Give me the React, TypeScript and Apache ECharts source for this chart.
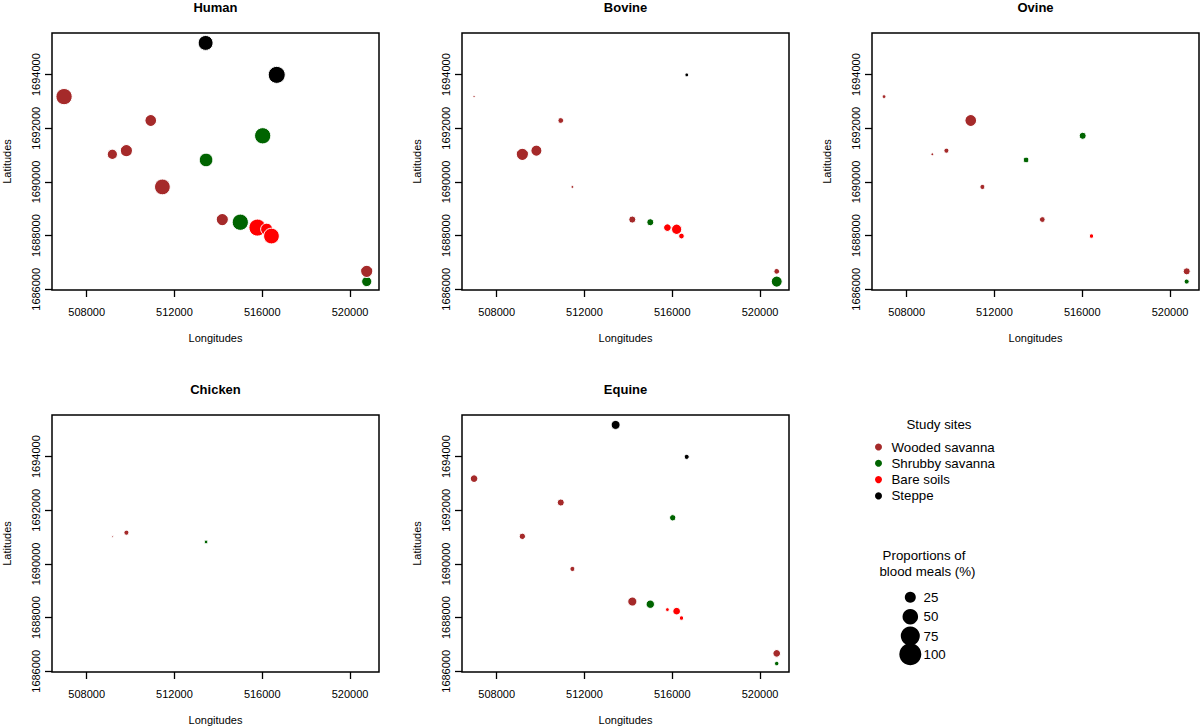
import React, { useEffect, useRef } from "react";
import * as echarts from "echarts";

const FONT = "'Liberation Sans', Arial, Helvetica, sans-serif";

const panelTitles = ["Human", "Bovine", "Ovine", "Chicken", "Equine"];
const habitatNames = ["Wooded savanna", "Shrubby savanna", "Bare soils", "Steppe"];
const habitatColors = ["#A52A2A", "#006400", "#FF0000", "#000000"];

// study sites: habitat index, longitude, latitude
const siteHabitat = [0, 0, 0, 0, 0, 0, 0, 1, 1, 1, 1, 2, 2, 2, 3, 3];
const siteLon = [506970, 510920, 509170, 509810, 511450, 514180, 520760, 513440, 516020, 515000, 520760, 515780, 516200, 516420, 513420, 516660];
const siteLat = [1693180, 1692290, 1691030, 1691165, 1689815, 1688600, 1686670, 1690820, 1691720, 1688500, 1686290, 1688300, 1688240, 1687985, 1695180, 1693990];

// proportions of blood meals (%) per site, per host
const human = [48, 24, 18, 26, 45, 26, 26, 33, 48, 48, 17, 53, 25, 45, 40, 53];
const bovine = [0.35, 4.5, 26, 21, 0.6, 7.4, 4.5, 0, 0, 7.4, 21, 9.3, 18, 4.5, 0, 1.5];
const ovine = [1.5, 24, 0.8, 3.3, 3.3, 4.5, 7.4, 4.5, 7.4, 0, 3.3, 0, 0, 2.3, 0, 0];
const chicken = [0, 0, 0.2, 3.3, 0, 0, 0, 1.5, 0, 0, 0, 0, 0, 0, 0, 0];
const equine = [9.3, 7.4, 5.8, 0, 3.3, 13, 9.3, 0, 5.8, 11, 2.3, 1.5, 9.3, 2.3, 13, 3.3];

const xTicks = [508000, 512000, 516000, 520000];
const yTicks = [1686000, 1688000, 1690000, 1692000, 1694000];
const sizeLegendValues = [25, 50, 75, 100];

const X_MIN = 506420;
const X_MAX = 521320;
const Y_MIN = 1685975;
const Y_MAX = 1695550;

const SIZE_K = 2.2;

const grids = [
  { left: 52, top: 33 },
  { left: 462, top: 33 },
  { left: 872, top: 33 },
  { left: 52, top: 415 },
  { left: 462, top: 415 },
];
const GW = 327;
const GH = 257;

export default function App() {
  const ref = useRef<HTMLDivElement>(null);

  useEffect(() => {
    document.body.style.margin = "0";
    if (!ref.current) return;
    const chart = echarts.init(ref.current, null, { renderer: "svg" });
    const panels = [human, bovine, ovine, chicken, equine];
    const drawOrder = [1, 2, 0, 3];

    const series: any[] = [];
    panels.forEach((vals, pi) => {
      drawOrder.forEach((h) => {
        const data: number[][] = [];
        siteLon.forEach((lon, si) => {
          if (siteHabitat[si] === h && vals[si] > 0) data.push([lon, siteLat[si], vals[si]]);
        });
        series.push({
          type: "scatter",
          name: habitatNames[h],
          xAxisIndex: pi,
          yAxisIndex: pi,
          data,
          symbol: "circle",
          symbolSize: (v: number[]) => SIZE_K * Math.sqrt(v[2]) + 1,
          itemStyle: { color: habitatColors[h], borderColor: "#ffffff", borderWidth: 1, opacity: 1 },
          emphasis: { disabled: true },
          silent: true,
        });
      });
    });

    const xAxes = grids.map((g, i) => ({
      gridIndex: i,
      type: "value",
      min: X_MIN,
      max: X_MAX,
      name: "Longitudes",
      nameLocation: "middle",
      nameGap: 42,
      nameTextStyle: { fontSize: 11, color: "#000", fontFamily: FONT },
      axisLine: { show: false },
      axisTick: { show: true, inside: false, length: 7, customValues: xTicks, lineStyle: { color: "#000", width: 1.3 } },
      axisLabel: { show: true, customValues: xTicks, margin: 16, fontSize: 11, color: "#000", fontFamily: FONT, formatter: (v: number) => String(v) },
      splitLine: { show: false },
    }));

    const yAxes = grids.map((g, i) => ({
      gridIndex: i,
      type: "value",
      min: Y_MIN,
      max: Y_MAX,
      name: "Latitudes",
      nameLocation: "middle",
      nameGap: 40,
      nameTextStyle: { fontSize: 11, color: "#000", fontFamily: FONT },
      axisLine: { show: false },
      axisTick: { show: true, inside: false, length: 7, customValues: yTicks, lineStyle: { color: "#000", width: 1.3 } },
      axisLabel: { show: true, rotate: 90, customValues: yTicks, margin: 11, fontSize: 11, color: "#000", fontFamily: FONT, formatter: (v: number) => String(v) },
      splitLine: { show: false },
    }));

    const graphics: any[] = [];
    grids.forEach((g, i) => {
      graphics.push({
        type: "text",
        x: g.left + GW / 2,
        y: g.top - 25.5,
        style: { text: panelTitles[i], fontSize: 13, fontWeight: "bold", fontFamily: FONT, fill: "#000", align: "center", verticalAlign: "middle" },
      });
    });
    graphics.push({
      type: "text", x: 939, y: 424,
      style: { text: "Study sites", fontSize: 13.3, fontFamily: FONT, fill: "#000", align: "center", verticalAlign: "middle" },
    });
    graphics.push({
      type: "text", x: 924, y: 555,
      style: { text: "Proportions of", fontSize: 13.3, fontFamily: FONT, fill: "#000", align: "center", verticalAlign: "middle" },
    });
    graphics.push({
      type: "text", x: 927.5, y: 571.5,
      style: { text: "blood meals (%)", fontSize: 13.3, fontFamily: FONT, fill: "#000", align: "center", verticalAlign: "middle" },
    });
    const sizeRowsY = [597.3, 616.7, 636, 654.3];
    sizeLegendValues.forEach((v, k) => {
      graphics.push({
        type: "circle",
        shape: { cx: 910.3, cy: sizeRowsY[k], r: (SIZE_K * Math.sqrt(v)) / 2 },
        style: { fill: "#000" },
      });
    });
    sizeLegendValues.forEach((v, k) => {
      graphics.push({
        type: "text", x: 923.5, y: sizeRowsY[k],
        style: { text: String(v), fontSize: 13.3, fontFamily: FONT, fill: "#000", align: "left", verticalAlign: "middle" },
      });
    });

    chart.setOption({
      animation: false,
      backgroundColor: "#ffffff",
      grid: grids.map((g) => ({
        left: g.left, top: g.top, width: GW, height: GH,
        show: true, borderColor: "#000", borderWidth: 1.5, backgroundColor: "transparent",
        containLabel: false,
      })),
      xAxis: xAxes,
      yAxis: yAxes,
      legend: {
        data: habitatNames,
        orient: "vertical",
        left: 875,
        top: 440,
        padding: 0,
        itemWidth: 16,
        itemHeight: 7,
        itemGap: 2.3,
        icon: "circle",
        selectedMode: false,
        itemStyle: { borderWidth: 0 },
        textStyle: { fontSize: 13.3, lineHeight: 14, color: "#000", fontFamily: FONT },
      },
      graphic: graphics,
      series,
    });

    return () => chart.dispose();
  }, []);

  return <div ref={ref} style={{ width: 1200, height: 727 }} />;
}
